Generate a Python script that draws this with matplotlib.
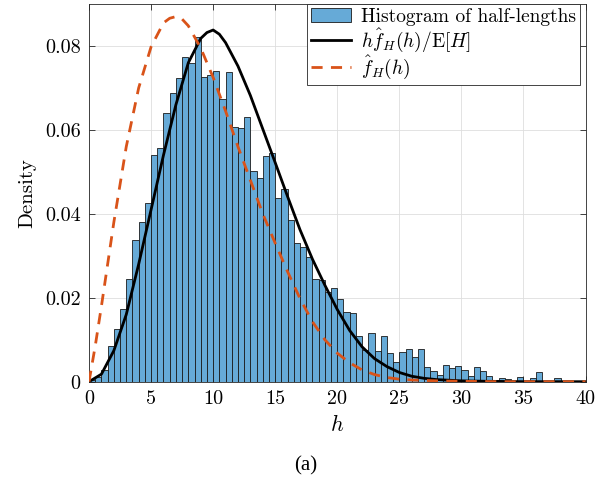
import numpy as np
import matplotlib
matplotlib.use('Agg')
import matplotlib.pyplot as plt

plt.rcParams['font.family'] = 'cmr10'
plt.rcParams['mathtext.fontset'] = 'cm'
plt.rcParams['axes.formatter.use_mathtext'] = True

# histogram of half-lengths, bins of 0.5 from 0 to 40 (density)
bin_width = 0.5
density = [0.0003, 0.0012, 0.0028, 0.0086, 0.0125, 0.0174, 0.0244, 0.0337, 0.0380, 0.0426,
           0.0541, 0.0556, 0.0640, 0.0687, 0.0724, 0.0773, 0.0759, 0.0822, 0.0726, 0.0730,
           0.0741, 0.0673, 0.0739, 0.0608, 0.0605, 0.0631, 0.0503, 0.0485, 0.0537, 0.0545,
           0.0437, 0.0460, 0.0385, 0.0330, 0.0322, 0.0298, 0.0244, 0.0242, 0.0214, 0.0224,
           0.0196, 0.0166, 0.0164, 0.0110, 0.0076, 0.0117, 0.0073, 0.0109, 0.0068, 0.0048,
           0.0070, 0.0078, 0.0058, 0.0078, 0.0034, 0.0025, 0.0016, 0.0040, 0.0033, 0.0037,
           0.0029, 0.0014, 0.0036, 0.0026, 0.0014, 0.0002, 0.0008, 0.0007, 0.0000, 0.0012,
           0.0002, 0.0008, 0.0022, 0.0000, 0.0001, 0.0008, 0.0000, 0.0000, 0.0000, 0.0000]
bin_left = np.arange(len(density)) * bin_width

# h f_H(h) / E[H]
h_w = [0, 1, 2, 3, 4, 5, 6, 7, 8, 9, 9.5, 10, 10.5, 11, 12, 13, 14, 15, 16, 17, 18, 19, 20,
       21, 22, 23, 24, 25, 26, 27, 28, 30, 32, 35, 40]
f_w = [0, 0.0018, 0.0074, 0.016, 0.028, 0.041, 0.054, 0.066, 0.076, 0.0818, 0.0832, 0.0838,
       0.0828, 0.0808, 0.0752, 0.0682, 0.0602, 0.0522, 0.0441, 0.0362, 0.0292, 0.0230, 0.0172,
       0.0122, 0.0083, 0.0055, 0.0036, 0.0022, 0.0013, 0.0008, 0.0005, 0.0002, 0.0001, 0, 0]

# f_H(h)
h_f = [0, 0.5, 1, 1.5, 2, 3, 4, 5, 6, 6.5, 7, 7.5, 8, 9, 10, 11, 12, 13, 14, 15, 16, 17, 18,
       19, 20, 21, 22, 23, 24, 25, 26, 28, 30, 33, 40]
f_f = [0, 0.0085, 0.018, 0.028, 0.038, 0.056, 0.070, 0.0798, 0.0855, 0.0866, 0.0870, 0.0864,
       0.0848, 0.0795, 0.0725, 0.0645, 0.0560, 0.0480, 0.0400, 0.0330, 0.0262, 0.0198, 0.0143,
       0.0100, 0.0068, 0.0045, 0.0028, 0.0017, 0.0010, 0.0006, 0.0004, 0.0002, 0.0001, 0, 0]

xticks = [0, 5, 10, 15, 20, 25, 30, 35, 40]
yticks = [0, 0.02, 0.04, 0.06, 0.08]
ytick_labels = ['0', '0.02', '0.04', '0.06', '0.08']

fig = plt.figure(figsize=(6.11, 4.82), dpi=100)
ax = fig.add_axes([0.1457, 0.2081, 0.8126, 0.7836])

blue = (0.4, 0.668, 0.845)
orange = (0.85, 0.325, 0.098)

bars = ax.bar(bin_left, density, width=bin_width, align='edge', color=blue,
              edgecolor=(0.1, 0.1, 0.1), linewidth=0.6, zorder=2)
l1, = ax.plot(h_w, f_w, color='black', linewidth=2.0, zorder=3)
l2, = ax.plot(h_f, f_f, color=orange, linewidth=2.0, linestyle=(0, (4, 3)), zorder=3)

ax.set_xlim(0, 40)
ax.set_ylim(0, 0.09)
ax.set_xticks(xticks)
ax.set_xticklabels([str(t) for t in xticks])
ax.set_yticks(yticks)
ax.set_yticklabels(ytick_labels)
ax.tick_params(direction='in', top=True, right=True, labelsize=14.5, length=4,
               width=0.6, color=(0.15, 0.15, 0.15), pad=6)
ax.grid(True, color=(0.87, 0.87, 0.87), linewidth=0.6, zorder=0)
ax.set_axisbelow(True)
for s in ax.spines.values():
    s.set_color((0.15, 0.15, 0.15))
    s.set_linewidth(0.6)

ax.set_xlabel(r'$h$', fontsize=16, labelpad=4)
ax.set_ylabel('Density', fontsize=15, labelpad=6)

leg = ax.legend([bars, l1, l2],
                ['Histogram of half-lengths', r'$h\hat{f}_H(h)/\mathrm{E}[H]$', r'$\hat{f}_H(h)$'],
                loc='upper right', bbox_to_anchor=(0.988, 1.0), fontsize=14,
                fancybox=False, framealpha=1, edgecolor=(0.15, 0.15, 0.15),
                borderaxespad=0.0, handlelength=2.05, borderpad=0.2,
                labelspacing=0.0, handletextpad=0.5)
leg.get_frame().set_linewidth(0.6)

fig.text(0.5, 0.033, '(a)', ha='center', va='center', fontsize=15, family='Liberation Serif')

fig.savefig('out.png', dpi=100)
